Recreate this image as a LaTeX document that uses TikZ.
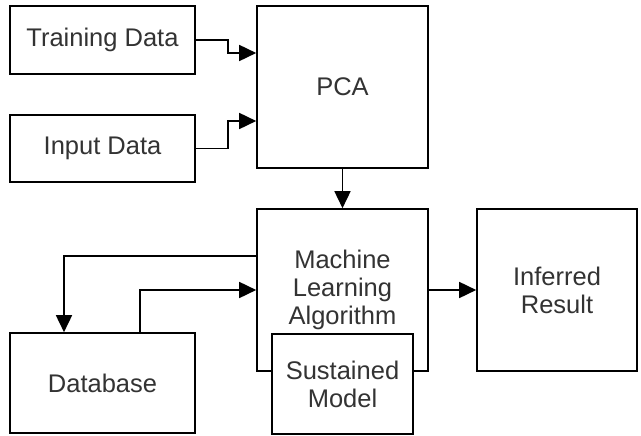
\documentclass[tikz,border=0pt]{standalone}
\usepackage{fontspec}
\setmainfont{Liberation Sans}
\usetikzlibrary{arrows.meta}
\begin{document}
\begin{tikzpicture}[x=1pt,y=-1pt,
  box/.style={draw,line width=1.6pt,rectangle,fill=white,align=center,inner sep=0pt,
    font=\fontsize{25.5}{28}\selectfont,text=black!80},
  conn/.style={line width=1.6pt,-{Triangle[length=17pt,width=16pt]}}]
\useasboundingbox (0,0) rectangle (641,436);
\node[box,minimum width=185pt,minimum height=68pt] (train) at (102.5,40) {Training Data};
\node[box,minimum width=185pt,minimum height=67pt] (input) at (102.5,148.5) {Input Data};
\node[box,minimum width=171pt,minimum height=162pt] (pca) at (342.5,87) {PCA};
\node[box,minimum width=171pt,minimum height=162pt] (ml) at (342.5,290) {Machine\\Learning\\Algorithm};
\node[box,minimum width=160pt,minimum height=162pt] (inf) at (557,290) {Inferred\\Result};
\node[box,minimum width=185pt,minimum height=100pt] (db) at (102.5,383) {Database};
\node[box,minimum width=141pt,minimum height=100pt] (sm) at (342.5,384) {Sustained\\Model};
\draw[conn] (train.east) -- ++(32,0) |- ([yshift=34pt]pca.west);
\draw[conn] (input.east) -- ++(32,0) |- ([yshift=-34pt]pca.west);
\draw[conn] (pca.south) -- (ml.north);
\draw[conn] (ml.east) -- (inf.west);
\draw[conn] ([yshift=34pt]ml.west) -| ([xshift=-38.5pt]db.north);
\draw[conn] ([xshift=37.5pt]db.north) |- (ml.west);
\end{tikzpicture}
\end{document}
